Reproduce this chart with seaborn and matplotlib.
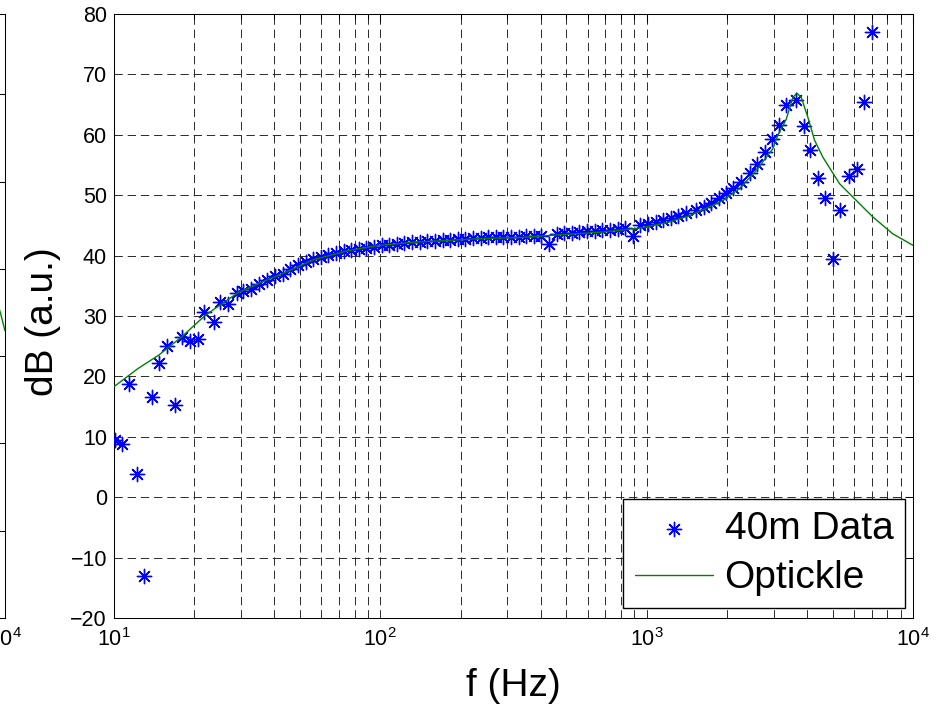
import matplotlib
matplotlib.use("Agg")
import matplotlib.pyplot as plt
import seaborn as sns
import pandas as pd
from matplotlib.ticker import LogLocator, NullFormatter, FixedLocator

# ---- measured data (40m) ----
data_f = [10.1, 10.7, 11.4, 12.2, 13.0, 13.9, 14.8, 15.8, 16.9, 18.0, 19.3, 20.6, 21.8,
          23.7, 25.1, 26.9, 28.9, 30.6, 32.6, 35.0, 37.7, 40.4,
          43.0, 45.9, 49.0, 52.4, 55.9, 59.7, 63.8, 68.1, 72.8, 77.7, 83.0, 88.7, 94.7,
          101.1, 108.0, 115.4, 123.2, 131.6, 140.5, 150.1, 160.3, 171.2, 182.8, 195.2,
          208.5, 222.7, 237.8, 254.0, 271.3, 289.7, 309.4, 330.5, 352.9, 376.9, 402.6,
          430.0, 459.2, 490.4, 523.8, 559.4, 597.4, 638.0, 681.4, 727.8, 777.3, 830.1,
          886.6, 946.8, 1011, 1080, 1153, 1232, 1316, 1405,
          1537, 1637, 1749, 1863, 1979, 2108, 2253, 2435, 2603, 2773, 2963, 3136, 3344,
          3645, 3883, 4116, 4393, 4684, 5003, 5332, 5743, 6153, 6522, 6988]
data_db = [9.5, 8.8, 18.7, 3.8, -13.0, 16.6, 22.2, 25.0, 15.3, 26.6, 25.8, 26.2, 30.7,
           29.0, 32.4, 32.0, 33.8, 34.1, 34.4, 35.3, 36.0, 36.7,
           37.0, 37.8, 38.5, 39.0, 39.4, 39.8, 40.1, 40.4, 40.7, 40.9, 41.1, 41.3, 41.5,
           41.7, 41.8, 42.0, 42.1, 42.2, 42.3, 42.4, 42.5, 42.6, 42.6, 42.7,
           42.8, 42.9, 42.9, 43.0, 43.0, 43.0, 43.0, 43.1, 43.2, 43.2, 43.3,
           42.0, 43.6, 43.7, 43.8, 43.9, 44.0, 44.1, 44.2, 44.3, 44.4, 44.5,
           43.3, 45.0, 45.3, 45.5, 45.9, 46.3, 46.6, 47.0,
           47.5, 48.0, 48.7, 49.5, 50.3, 51.2, 52.2, 53.6, 55.2, 57.1, 59.3, 61.7, 65.0,
           65.7, 61.4, 57.5, 52.8, 49.6, 39.4, 47.6, 53.1, 54.4, 65.4, 77.1]

# ---- Optickle model ----
model_f = [10.0, 12.3, 14.7, 17.9, 22.0, 29.3, 35.0, 43.8, 56.0, 75.0, 99.5, 132, 177,
           236, 334, 458, 684, 955, 1200, 1450, 1933, 2234, 2580, 2978, 3100, 3344,
           3540, 3664, 3805, 4030, 4270, 4587, 5300, 5944, 7068, 8401, 10000]
model_db = [18.3, 21.3, 23.5, 26.5, 30.1, 33.9, 35.4, 37.2, 39.3, 40.8, 41.7, 42.2, 42.5,
            42.8, 43.0, 43.4, 43.9, 44.6, 45.5, 46.6, 49.1, 51.1, 54.1, 57.7, 59.8, 62.6,
            66.2, 66.9, 66.2, 62.9, 59.1, 56.3, 51.9, 49.7, 46.4, 43.6, 41.7]

# ---- neighbouring panel (only its right edge is visible) ----
stub_f = [9000, 9660, 10000]
stub_val = [3.8, 3.47, 3.29]

y_ticks = [-20, -10, 0, 10, 20, 30, 40, 50, 60, 70, 80]
x_label = "f (Hz)"
y_label = "dB (a.u.)"
legend_labels = ["40m Data", "Optickle"]

sns.set_theme(style="white")
plt.rcParams["font.family"] = ["Liberation Sans", "DejaVu Sans"]
plt.rcParams["mathtext.fontset"] = "custom"
plt.rcParams["mathtext.rm"] = "Liberation Sans"
plt.rcParams["mathtext.it"] = "Liberation Sans:italic"
plt.rcParams["lines.scale_dashes"] = False
for k in ["text.color", "axes.labelcolor", "xtick.color", "ytick.color", "axes.edgecolor"]:
    plt.rcParams[k] = "black"

TICK_FS = 15.5

W, H = 946, 718
fig = plt.figure(figsize=(W / 100, H / 100), dpi=100)
fig.patch.set_facecolor("white")

L, R, T, B = 114, 913, 14, 618
ax = fig.add_axes([L / W, 1 - B / H, (R - L) / W, (B - T) / H])

# neighbour panel stub
ax0 = fig.add_axes([(5 - (R - L)) / W, 1 - B / H, (R - L) / W, (B - T) / H])
sns.lineplot(x=stub_f, y=stub_val, ax=ax0, color=(0, 0.5, 0), linewidth=1.0)
ax0.set_xscale("log")
ax0.set_xlim(10, 10000)
ax0.set_ylim(0, (B - T) / 87.3)
ax0.yaxis.set_major_locator(FixedLocator([0, 1, 2, 3, 4, 5, 6]))
ax0.set_yticklabels([])
ax0.xaxis.set_major_locator(LogLocator(base=10, numticks=10))
ax0.xaxis.set_minor_locator(LogLocator(base=10, subs=range(2, 10), numticks=20))
ax0.xaxis.set_minor_formatter(NullFormatter())
ax0.tick_params(which="both", direction="in", top=True, right=True, color="black", width=0.75)
ax0.tick_params(which="major", length=6, labelsize=TICK_FS, pad=7, labelcolor="black")
ax0.tick_params(which="minor", length=3.5)
for s in ax0.spines.values():
    s.set_color("black")
    s.set_linewidth(0.75)
ax0.set_facecolor("white")

# main panel
df_data = pd.DataFrame({"f": data_f, "dB": data_db})
df_model = pd.DataFrame({"f": model_f, "dB": model_db})

sns.scatterplot(data=df_data, x="f", y="dB", ax=ax, marker=(8, 2, 0), s=105,
                color=(0, 0, 1), edgecolor=(0, 0, 1), linewidth=1.0,
                label=legend_labels[0], zorder=3)
sns.lineplot(data=df_model, x="f", y="dB", ax=ax, color=(0, 0.5, 0), linewidth=1.0,
             label=legend_labels[1], zorder=4)

ax.set_xscale("log")
ax.set_xlim(10, 10000)
ax.set_ylim(-20, 80)
ax.yaxis.set_major_locator(FixedLocator(y_ticks))
ax.xaxis.set_major_locator(LogLocator(base=10, numticks=10))
ax.xaxis.set_minor_locator(LogLocator(base=10, subs=range(2, 10), numticks=20))
ax.xaxis.set_minor_formatter(NullFormatter())

ax.set_axisbelow(True)
grid_kw = dict(color="#2a2a2a", linewidth=0.7, linestyle=(0, (6, 3.5)))
ax.grid(True, which="both", axis="x", **grid_kw)
ax.grid(True, which="major", axis="y", **grid_kw)

ax.tick_params(which="both", direction="in", top=True, right=True, color="black", width=0.75)
ax.tick_params(which="major", length=6, labelsize=TICK_FS, pad=7, labelcolor="black")
ax.tick_params(axis="y", which="major", pad=5)
ax.tick_params(which="minor", length=3.5)
for s in ax.spines.values():
    s.set_color("black")
    s.set_linewidth(0.75)
ax.set_facecolor("white")

ax.set_xlabel(x_label, fontsize=28, color="black")
ax.set_ylabel(y_label, fontsize=28, color="black")
ax.xaxis.set_label_coords(0.5, -0.083)
ax.yaxis.set_label_coords(-0.066, 0.49)

leg = ax.legend(loc="lower right", bbox_to_anchor=(905 / W, 1 - 608 / H),
                bbox_transform=fig.transFigure, fontsize=28, frameon=True,
                fancybox=False, edgecolor="black", framealpha=1, borderpad=0.3,
                labelspacing=0.35, handlelength=2.0, handletextpad=0.3, borderaxespad=0)
leg.get_frame().set_linewidth(1.0)
for t in leg.get_texts():
    t.set_color("black")

fig.savefig("out.png", dpi=100, facecolor="white")
